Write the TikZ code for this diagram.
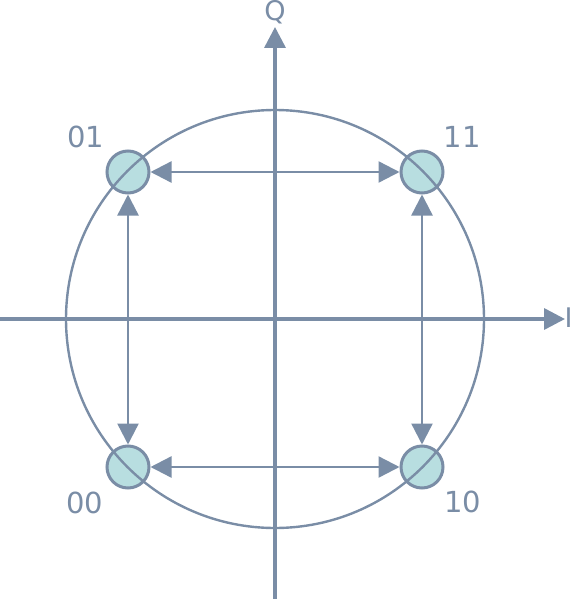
\documentclass[tikz,border=0pt]{standalone}
\usepackage{fontspec}
\setmainfont{DejaVu Sans}
\usetikzlibrary{arrows.meta}
\definecolor{slate}{RGB}{122,141,166}
\definecolor{dotfill}{RGB}{184,222,224}
\tikzset{
  axisline/.style={draw=slate, line width=3.5pt, -{Triangle[length=21pt,width=21pt]}},
  linkarrow/.style={draw=slate, line width=2.4pt, {Triangle[length=21pt,width=21pt]}-{Triangle[length=21pt,width=21pt]}},
  dot/.style={circle, draw=slate, fill=dotfill, line width=3pt, minimum size=42pt, inner sep=0pt},
  lbl/.style={text=slate, font=\fontsize{29}{32}\selectfont, inner sep=0pt},
  axlbl/.style={text=slate, font=\fontsize{27}{30}\selectfont, inner sep=0pt}
}
\begin{document}
\begin{tikzpicture}[x=1pt,y=-1pt]
\useasboundingbox (0,0) rectangle (575,599);
% axes
\coordinate (xs) at (0,319);
\coordinate (xe) at (565,319);
\coordinate (ys) at (275,599);
\coordinate (ye) at (275,27);
\draw[axisline] (xs) -- (xe);
\draw[axisline] (ys) -- (ye);
\node[axlbl] (lI) at (568.5,318) {I};
\node[axlbl] (lQ) at (275,12) {Q};
% constellation points
\node[dot] (p01) at (128,172) {};
\node[dot] (p11) at (422,172) {};
\node[dot] (p00) at (128,467) {};
\node[dot] (p10) at (422,467) {};
% transitions
\draw[linkarrow] (p01) -- (p11);
\draw[linkarrow] (p00) -- (p10);
\draw[linkarrow] (p01) -- (p00);
\draw[linkarrow] (p11) -- (p10);
% circle
\coordinate (c) at (275,319);
\draw[slate, line width=2.4pt] (c) circle[radius=209];
% labels
\node[lbl] (t01) at (85.5,137) {01};
\node[lbl] (t11) at (462,137) {11};
\node[lbl] (t00) at (85,503) {00};
\node[lbl] (t10) at (462.5,502) {10};
\end{tikzpicture}
\end{document}
